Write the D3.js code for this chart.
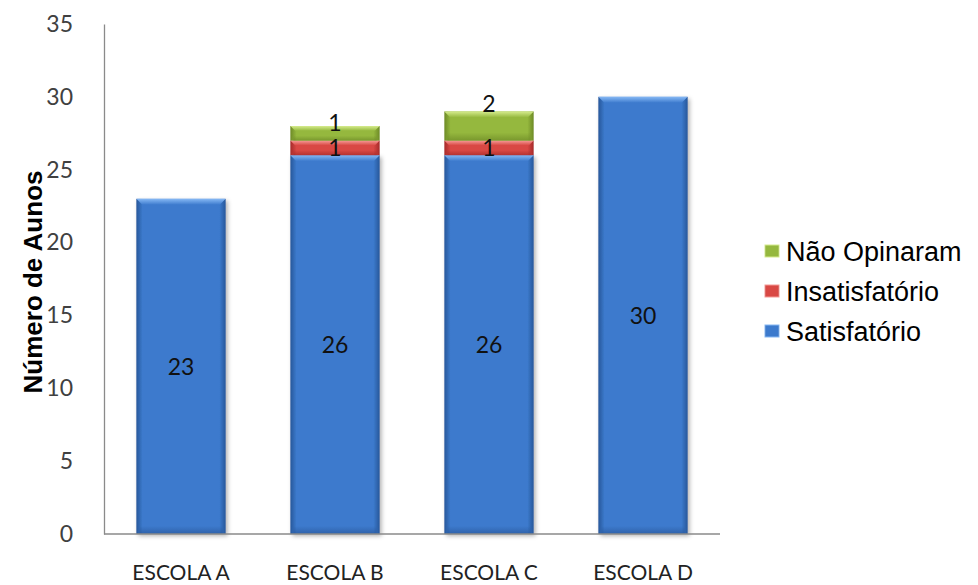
<!DOCTYPE html>
<html>
<head>
<meta charset="utf-8">
<script src="https://cdn.jsdelivr.net/npm/d3@7"></script>
<style>
  body { margin: 0; background: #fff; }
  text { font-family: Lato, "Open Sans", sans-serif; }
</style>
</head>
<body>
<svg id="chart" width="978" height="585"></svg>
<script>
var schools = ["ESCOLA A", "ESCOLA B", "ESCOLA C", "ESCOLA D"];
var satisfatorio = [23, 26, 26, 30];
var insatisfatorio = [0, 1, 1, 0];
var naoOpinaram = [0, 1, 2, 0];
var seriesNames = ["Satisfatório", "Insatisfatório", "Não Opinaram"];
var yTicks = [0, 5, 10, 15, 20, 25, 30, 35];

// colors: edge, base, top bevel
var palette = [
  { edge: "#28579a", base: "#3c7acd", light: "#86b8f4" },
  { edge: "#a52a2a", base: "#d94844", light: "#f59a96" },
  { edge: "#6d8a26", base: "#95b83e", light: "#d6ec8e" }
];
// where the data label sits inside a segment (fraction of the value above its base)
var labelPos = [0.5, 0.5, 1.25];

var svg = d3.select("#chart");

var x = d3.scaleBand()
    .domain(schools)
    .range([104, 720])
    .paddingInner(0.42)
    .paddingOuter(0.21);

var y = d3.scaleLinear()
    .domain([0, 35])
    .range([534, 24]);

var defs = svg.append("defs");
var shadow = defs.append("filter").attr("id", "shadow")
    .attr("x", "-10%").attr("y", "-10%").attr("width", "130%").attr("height", "130%");
shadow.append("feDropShadow")
    .attr("dx", 2).attr("dy", 2).attr("stdDeviation", 2)
    .attr("flood-color", "#000").attr("flood-opacity", 0.3);

palette.forEach(function(c, i) {
  var g = defs.append("linearGradient").attr("id", "side" + i)
      .attr("x1", 0).attr("x2", 1).attr("y1", 0).attr("y2", 0);
  g.append("stop").attr("offset", "0%").attr("stop-color", c.edge);
  g.append("stop").attr("offset", "7%").attr("stop-color", c.base);
  g.append("stop").attr("offset", "93%").attr("stop-color", c.base);
  g.append("stop").attr("offset", "100%").attr("stop-color", c.edge);
  var t = defs.append("linearGradient").attr("id", "top" + i)
      .attr("x1", 0).attr("x2", 0).attr("y1", 0).attr("y2", 1);
  t.append("stop").attr("offset", "0%").attr("stop-color", c.light);
  t.append("stop").attr("offset", "100%").attr("stop-color", c.base);
  var b = defs.append("linearGradient").attr("id", "bot" + i)
      .attr("x1", 0).attr("x2", 0).attr("y1", 0).attr("y2", 1);
  b.append("stop").attr("offset", "0%").attr("stop-color", c.edge).attr("stop-opacity", 0);
  b.append("stop").attr("offset", "100%").attr("stop-color", c.edge).attr("stop-opacity", 0.7);
});

// stack the data
var rows = schools.map(function(s, i) {
  return { school: s, s0: satisfatorio[i], s1: insatisfatorio[i], s2: naoOpinaram[i] };
});
var stack = d3.stack().keys(["s0", "s1", "s2"]);
var stacked = stack(rows);

// y axis
var yAxis = d3.axisLeft(y).tickValues(yTicks).tickSize(0).tickPadding(31);
var ya = svg.append("g").attr("transform", "translate(104,0)").call(yAxis);
ya.select(".domain").attr("stroke", "#8a8a8a").attr("stroke-width", 1.3);
ya.selectAll("text").attr("font-size", 23).attr("fill", "#404040")
    .style("font-family", "Lato, sans-serif");

// bars
stacked.forEach(function(layer, si) {
  var g = svg.append("g").attr("class", "layer");
  layer.forEach(function(d, i) {
    if (d[1] - d[0] <= 0) return;
    var x0 = x(schools[i]), w = x.bandwidth();
    var top = y(d[1]), bot = y(d[0]);
    var h = bot - top;
    var bev = Math.min(6, h / 3);
    var bb = Math.min(8, h / 3);
    g.append("rect")
      .attr("x", x0).attr("y", top).attr("width", w).attr("height", h)
      .attr("fill", "url(#side" + si + ")")
      .attr("filter", si == 0 ? "url(#shadow)" : null);
    g.append("path")
      .attr("d", "M" + x0 + "," + top + "L" + (x0 + w) + "," + top +
           "L" + (x0 + w - bev) + "," + (top + bev) + "L" + (x0 + bev) + "," + (top + bev) + "Z")
      .attr("fill", "url(#top" + si + ")");
    g.append("rect")
      .attr("x", x0 + 3).attr("y", bot - bb).attr("width", w - 6).attr("height", bb)
      .attr("fill", "url(#bot" + si + ")");
  });
});

// bottom axis
svg.append("line")
  .attr("x1", 104).attr("x2", 720).attr("y1", y(0)).attr("y2", y(0))
  .attr("stroke", "#8a8a8a").attr("stroke-width", 1.5);

svg.append("g").selectAll("text")
  .data(schools)
  .enter().append("text")
    .attr("x", function(d) { return x(d) + x.bandwidth() / 2; })
    .attr("y", 580)
    .attr("text-anchor", "middle")
    .attr("font-size", 21)
    .attr("fill", "#222")
    .text(function(d) { return d; });

// data labels
stacked.forEach(function(layer, si) {
  svg.append("g").selectAll("text")
    .data(layer.filter(function(d) { return d[1] - d[0] > 0; }))
    .enter().append("text")
      .attr("x", function(d) { return x(d.data.school) + x.bandwidth() / 2; })
      .attr("y", function(d) { return y(d[0] + (d[1] - d[0]) * labelPos[si]); })
      .attr("dy", "0.36em")
      .attr("text-anchor", "middle")
      .attr("font-size", 23)
      .attr("fill", "#111")
      .text(function(d) { return d[1] - d[0]; });
});

// y axis title
svg.append("text")
  .attr("transform", "translate(42,282) rotate(-90)")
  .attr("text-anchor", "middle")
  .attr("font-size", 26)
  .attr("font-weight", "bold")
  .style("font-family", "'Liberation Sans', Arial, sans-serif")
  .attr("fill", "#000")
  .text("Número de Aunos");

// legend (top to bottom: reversed series order)
var legendRows = [2, 1, 0];
var legend = svg.append("g").attr("transform", "translate(765,0)");
legendRows.forEach(function(si, k) {
  var cy = 251 + k * 40;
  legend.append("rect")
    .attr("x", 0).attr("y", cy - 6).attr("width", 14).attr("height", 12)
    .attr("fill", "url(#side" + si + ")")
    .attr("stroke", palette[si].light).attr("stroke-width", 1);
  legend.append("text")
    .attr("x", 21).attr("y", cy)
    .attr("dy", "0.36em")
    .attr("font-size", 27)
    .style("font-family", "'Liberation Sans', Arial, sans-serif")
    .attr("fill", "#000")
    .text(seriesNames[si]);
});
</script>
</body>
</html>
